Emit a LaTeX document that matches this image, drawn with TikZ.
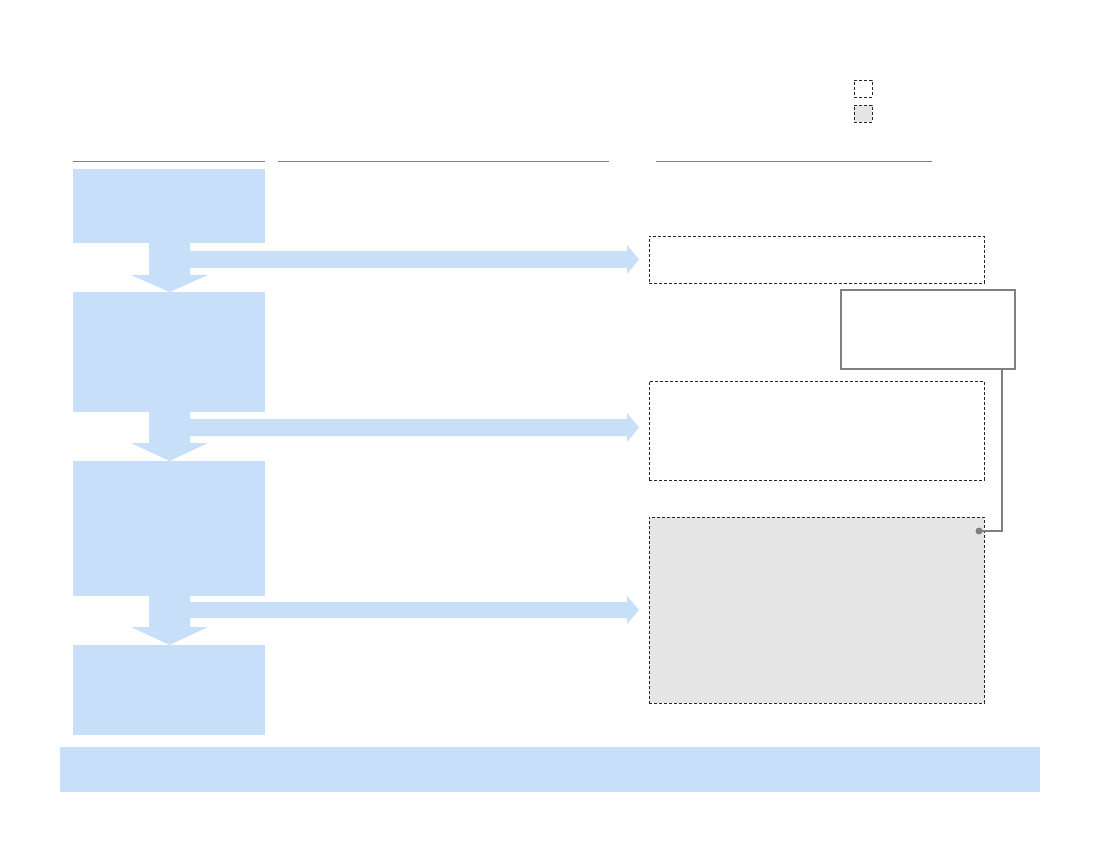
\documentclass[tikz,border=0pt]{standalone}
\usetikzlibrary{arrows.meta,calc}
\definecolor{stageblue}{HTML}{C8DFFA}
\definecolor{linegray}{HTML}{808080}
\definecolor{fillgray}{HTML}{E5E5E5}
\begin{document}
\begin{tikzpicture}[x=1pt,y=-1pt,
  stagebox/.style={fill=stageblue,draw=none},
  dashbox/.style={draw=black!85,dashed,line width=0.8pt,dash pattern=on 3pt off 2pt},
  headline/.style={draw=linegray,line width=0.9pt},
  flow/.style={fill=stageblue,draw=none}]
\useasboundingbox (0,0) rectangle (1100,850);
\fill[white] (0,0) rectangle (1100,850);
% legend
\node[dashbox,minimum width=18pt,minimum height=17pt,inner sep=0pt] (legA) at (863,88.5) {};
\node[dashbox,fill=fillgray,minimum width=18pt,minimum height=17pt,inner sep=0pt] (legB) at (863,113.5) {};
% header lines
\coordinate (h1a) at (73,161); \coordinate (h1b) at (265,161);
\coordinate (h2a) at (278,161); \coordinate (h2b) at (609,161);
\coordinate (h3a) at (656,161); \coordinate (h3b) at (932,161);
\draw[headline] (h1a) -- (h1b);
\draw[headline] (h2a) -- (h2b);
\draw[headline] (h3a) -- (h3b);
% flow arrows (down)
\fill[flow] (149,243) -- (190,243) -- (190,275) -- (208,275) -- (169.5,292) -- (131,275) -- (149,275) -- cycle;
\fill[flow] (149,412) -- (190,412) -- (190,443) -- (208,443) -- (169.5,461) -- (131,443) -- (149,443) -- cycle;
\fill[flow] (149,596) -- (190,596) -- (190,627) -- (208,627) -- (169.5,645) -- (131,627) -- (149,627) -- cycle;
% flow arrows (right)
\fill[flow] (190,251) -- (627,251) -- (627,245) -- (639,259.5) -- (627,274) -- (627,268) -- (190,268) -- cycle;
\fill[flow] (190,419) -- (627,419) -- (627,413) -- (639,427.5) -- (627,442) -- (627,436) -- (190,436) -- cycle;
\fill[flow] (190,602) -- (627,602) -- (627,596) -- (639,610) -- (627,624) -- (627,618) -- (190,618) -- cycle;
% stage boxes
\path[stagebox] (73,169) rectangle (265,243) node[pos=0.5] (s1) {};
\path[stagebox] (73,292) rectangle (265,412) node[pos=0.5] (s2) {};
\path[stagebox] (73,461) rectangle (265,596) node[pos=0.5] (s3) {};
\path[stagebox] (73,645) rectangle (265,735) node[pos=0.5] (s4) {};
% dashed boxes
\node[dashbox,minimum width=335pt,minimum height=47pt,inner sep=0pt] (d1) at (816.5,259.5) {};
\node[dashbox,minimum width=335pt,minimum height=99pt,inner sep=0pt] (d2) at (816.5,430.5) {};
\node[dashbox,fill=fillgray,minimum width=335pt,minimum height=186pt,inner sep=0pt] (d3) at (816.5,610) {};
% solid note box
\node[draw=linegray,line width=1.6pt,minimum width=174pt,minimum height=79pt,inner sep=0pt] (note) at (928,329.5) {};
% connector
\coordinate (dot) at (979,531);
\draw[linegray,line width=1.6pt] (note.south -| 1002,0) |- (dot);
\fill[linegray] (dot) circle (3.5pt);
% bottom band
\path[stagebox] (60,747) rectangle (1040,792) node[pos=0.5] (band) {};
\end{tikzpicture}
\end{document}
